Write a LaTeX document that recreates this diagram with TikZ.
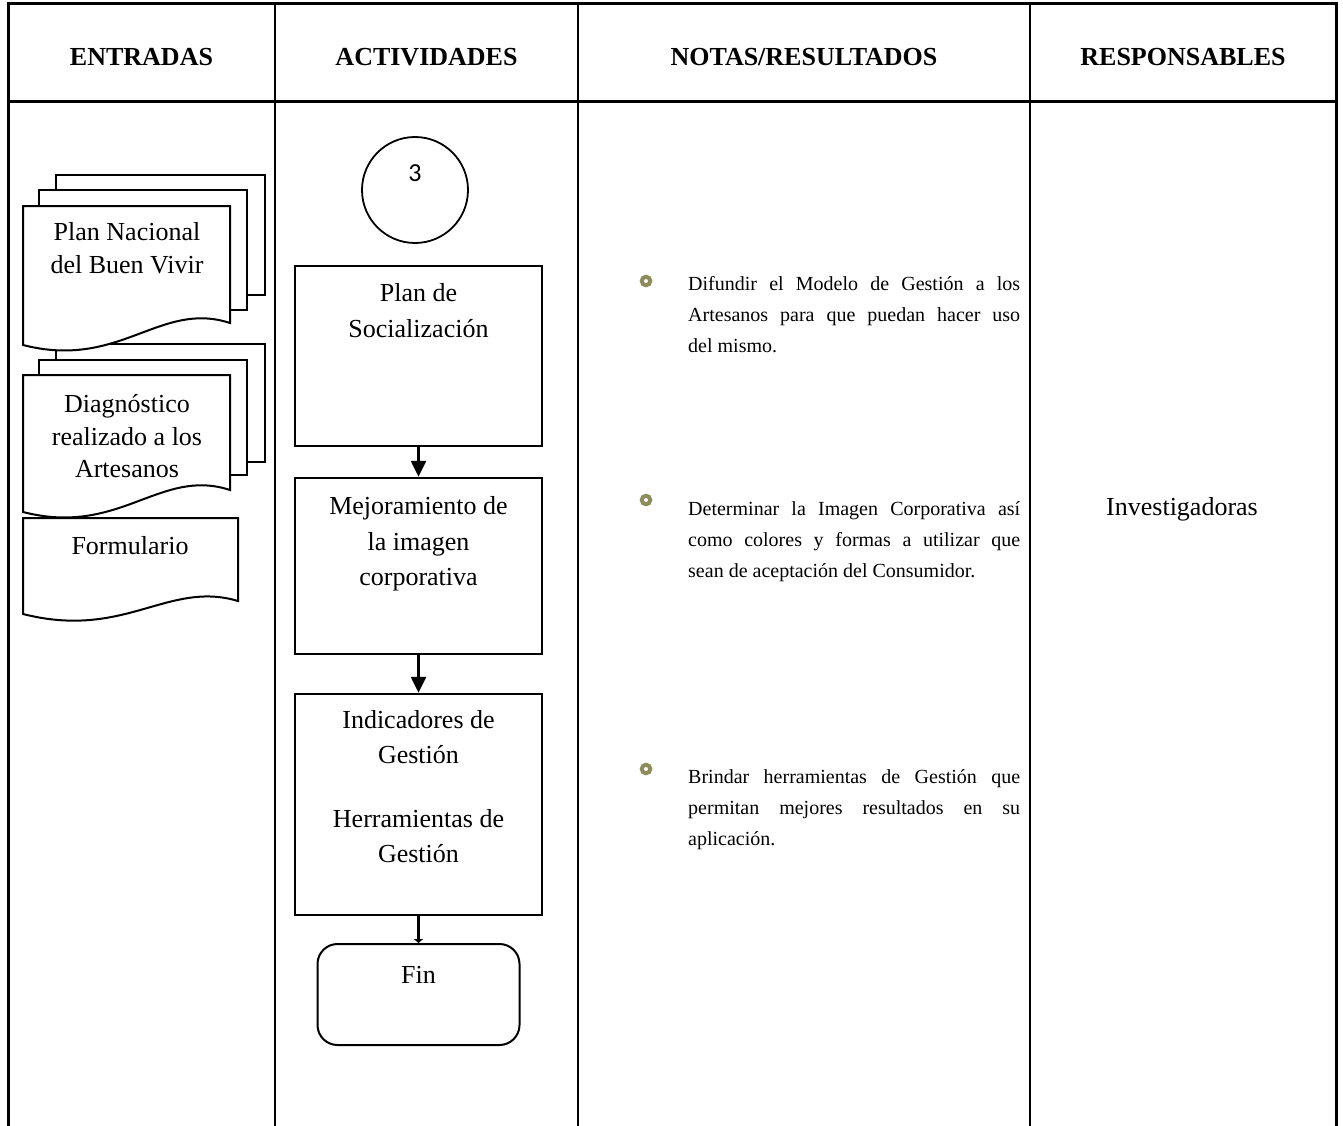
\documentclass[tikz,border=0pt]{standalone}
\usepackage{fontspec}
\setmainfont{Liberation Serif}
\newfontfamily\calibfont{Carlito}
\usetikzlibrary{arrows.meta,calc}
\definecolor{bulletolive}{RGB}{140,140,92}
\tikzset{
  tline/.style={line width=3pt, line cap=rect},
  cline/.style={line width=2pt},
  hdr/.style={anchor=base, inner sep=0pt, font=\fontsize{26}{30}\selectfont\bfseries},
  body/.style={anchor=base, inner sep=0pt, font=\fontsize{26}{33}\selectfont},
  sheet/.style={draw=black, fill=white, line width=2pt, line join=miter},
  actbox/.style={draw=black, fill=white, rectangle, line width=2.4pt, inner sep=0pt},
  flow/.style={line width=2.4pt, -{Triangle[length=16pt,width=15pt]}},
  note/.style={anchor=north west, inner sep=0pt, text width=332pt, align=justify,
    font=\fontsize{20}{31}\selectfont},
  bul/.style={circle, draw=bulletolive, line width=4pt, minimum size=8.5pt, inner sep=0pt}
}
\begin{document}
\begin{tikzpicture}[x=1pt,y=-1pt]
\useasboundingbox (0,0) rectangle (1343,1126);
\fill[white] (0,0) rectangle (1343,1126);

% ---------- table ----------
\draw[tline] (8,1126) -- (8,4) -- (1336,4) -- (1336,1126);
\draw[tline] (8,102) -- (1336,102);
\draw[cline] (275,4) -- (275,1126);
\draw[cline] (578,4) -- (578,1126);
\draw[cline] (1030,4) -- (1030,1126);

\node[hdr] (hEnt) at (141.5,66) {ENTRADAS};
\node[hdr] (hAct) at (426.5,66) {ACTIVIDADES};
\node[hdr] (hNot) at (804,66) {NOTAS/RESULTADOS};
\node[hdr] (hRes) at (1183,66) {RESPONSABLES};

% ---------- ENTRADAS ----------
% Formulario
\filldraw[sheet] (23,518) -- (238,518) -- (238,601)
   .. controls (168,580) and (125,640) .. (23,614) -- cycle;
% stack 2
\filldraw[sheet] (56,344) rectangle (265,462);
\filldraw[sheet] (39,360) rectangle (247,475);
\filldraw[sheet] (23,375) -- (230,375) -- (230,490)
   .. controls (160,467) and (120,537) .. (23,512) -- cycle;
% stack 1
\filldraw[sheet] (56,175) rectangle (265,295);
\filldraw[sheet] (39,190) rectangle (247,310);
\filldraw[sheet] (23,206) -- (230,206) -- (230,323)
   .. controls (160,300) and (120,370) .. (23,345) -- cycle;

\node[body] (e1a) at (127,240) {Plan Nacional};
\node[body] (e1b) at (127,273) {del Buen Vivir};
\node[body] (e2a) at (127,412) {Diagnóstico};
\node[body] (e2b) at (127,445) {realizado a los};
\node[body] (e2c) at (127,477) {Artesanos};
\node[body] (e3a) at (130,554) {Formulario};

% ---------- ACTIVIDADES ----------
\node[circle, draw=black, line width=1.8pt, minimum size=106pt, inner sep=0pt] (c3) at (415,190) {};
\node[anchor=base, inner sep=0pt, font=\calibfont\fontsize{26}{30}\selectfont] (c3t) at (415,182) {3};

\node[actbox, minimum width=247pt, minimum height=180pt] (b1) at (418.5,356) {};
\node[actbox, minimum width=247pt, minimum height=176pt] (b2) at (418.5,566) {};
\node[actbox, minimum width=247pt, minimum height=221pt] (b3) at (418.5,804.5) {};
\node[draw=black, fill=white, rectangle, rounded corners=20pt, line width=2pt,
      minimum width=202pt, minimum height=101pt, inner sep=0pt] (fin) at (418.5,994.5) {};

\draw[flow] (b1.south) -- (b2.north);
\draw[flow] (b2.south) -- (b3.north);
\draw[line width=2.4pt, -{Triangle[length=4pt,width=9pt]}] (b3.south) -- (fin.north);

\node[body] (a1a) at (418.5,301) {Plan de};
\node[body] (a1b) at (418.5,337) {Socialización};
\node[body] (a2a) at (418.5,514) {Mejoramiento de};
\node[body] (a2b) at (418.5,550) {la imagen};
\node[body] (a2c) at (418.5,585) {corporativa};
\node[body] (a3a) at (418.5,728) {Indicadores de};
\node[body] (a3b) at (418.5,763) {Gestión};
\node[body] (a3c) at (418.5,827) {Herramientas de};
\node[body] (a3d) at (418.5,862) {Gestión};
\node[body] (fint) at (418.5,983) {Fin};

% ---------- NOTAS ----------
\node[bul] (bu1) at (646,281) {};
\node[bul] (bu2) at (646,500) {};
\node[bul] (bu3) at (646,769) {};

\node[note] (n1) at (688,275) {\rule{0pt}{15pt}Difundir el Modelo de Gestión a los\linebreak
  Artesanos para que puedan hacer uso\linebreak del mismo.};
\node[note] (n2) at (688,500) {\rule{0pt}{15pt}Determinar la Imagen Corporativa así\linebreak
  como colores y formas a utilizar que\linebreak sean de aceptación del Consumidor.};
\node[note] (n3) at (688,768) {\rule{0pt}{15pt}Brindar herramientas de Gestión que\linebreak
  permitan mejores resultados en su\linebreak aplicación.};

% ---------- RESPONSABLES ----------
\node[body] (r1) at (1182,515) {Investigadoras};
\end{tikzpicture}
\end{document}
